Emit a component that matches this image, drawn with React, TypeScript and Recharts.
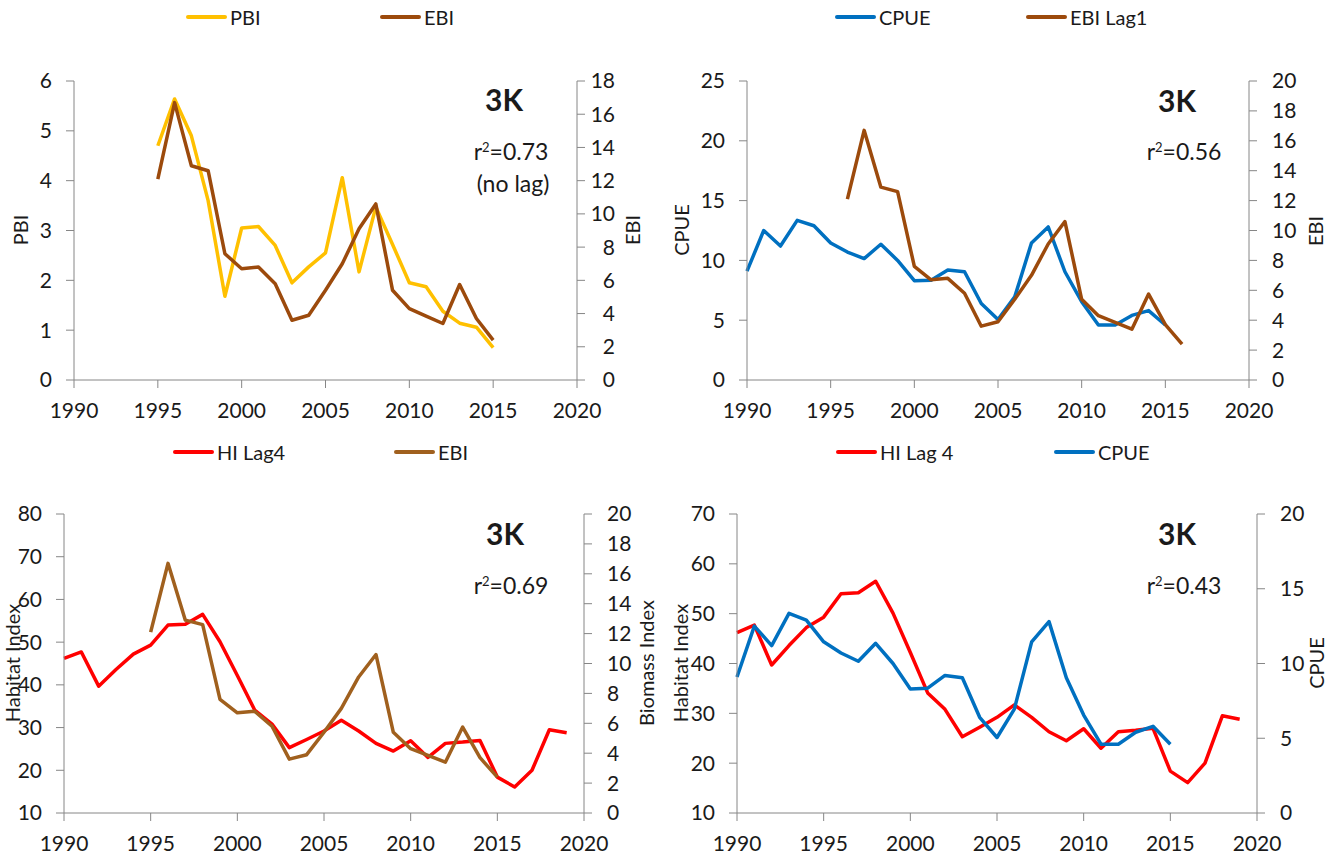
import React from "react";
import { LineChart, Line, XAxis, YAxis } from "recharts";

// ---- data ----
const ebiStart = 1995;
const ebiValues = [12.1, 16.7, 12.9, 12.6, 7.6, 6.7, 6.8, 5.8, 3.6, 3.9, 5.4, 7.0, 9.1, 10.6, 5.4, 4.3, 3.85, 3.4, 5.75, 3.7, 2.4];

const pbiStart = 1995;
const pbiValues = [4.7, 5.64, 4.9, 3.6, 1.68, 3.05, 3.08, 2.7, 1.95, 2.27, 2.55, 4.06, 2.17, 3.47, 2.72, 1.95, 1.87, 1.38, 1.14, 1.06, 0.65];

const cpueStart = 1990;
const cpueValues = [9.1, 12.5, 11.2, 13.35, 12.9, 11.45, 10.7, 10.15, 11.35, 10.0, 8.3, 8.35, 9.2, 9.05, 6.4, 5.05, 6.95, 11.45, 12.8, 9.05, 6.55, 4.6, 4.6, 5.4, 5.8, 4.6];

// EBI shifted forward one year
const ebiLag1Start = 1996;

const hiStart = 1990;
const hiValues = [46.2, 47.7, 39.7, 43.6, 47.2, 49.3, 54.0, 54.2, 56.5, 50.1, 42.2, 34.1, 30.8, 25.3, 27.2, 29.2, 31.7, 29.2, 26.3, 24.5, 26.9, 23.0, 26.3, 26.6, 27.0, 18.4, 16.1, 20.0, 29.5, 28.8];

const yearTicks = [1990, 1995, 2000, 2005, 2010, 2015, 2020];

const FONT = "Lato, 'Open Sans', sans-serif";
const AXIS = "#868686";
const TXT = "#1a1a1a";
const YELLOW = "#FFC000";
const BROWN = "#9C4A0C";
const BROWN2 = "#A0601E";
const BLUE = "#0070C0";
const RED = "#FF0000";

type S = { key: string; start: number; values: number[] };

function merge(list: S[]) {
  const rows: Record<number, any> = {};
  list.forEach((s) => {
    s.values.forEach((v, i) => {
      const yr = s.start + i;
      if (!rows[yr]) rows[yr] = { year: yr };
      rows[yr][s.key] = v;
    });
  });
  return Object.values(rows).sort((a: any, b: any) => a.year - b.year);
}

function range(a: number, b: number, step: number) {
  const out: number[] = [];
  for (let v = a; v <= b; v += step) out.push(v);
  return out;
}

interface PanelProps {
  left: number;
  top: number;
  width: number;
  height: number;
  plot: { l: number; r: number; t: number; b: number };
  leftDomain: [number, number];
  leftStep: number;
  rightDomain: [number, number];
  rightStep: number;
  rightAlignEnd?: boolean;
  lines: { key: string; axis: "l" | "r"; color: string }[];
  data: any[];
}

function Panel(p: PanelProps) {
  const rightW = 60;
  const margin = {
    top: p.plot.t,
    left: 0,
    right: p.width - p.plot.r - rightW,
    bottom: p.height - p.plot.b - 40,
  };
  const tickStyle = { fill: TXT, fontSize: 21, fontFamily: FONT };
  const rightTick = (props: any) => {
    const { x, y, payload } = props;
    return (
      <text
        x={p.rightAlignEnd ? x + 15 : x}
        y={y}
        dy="0.355em"
        textAnchor={p.rightAlignEnd ? "end" : "start"}
        fill={TXT}
        fontSize={21}
        fontFamily={FONT}
      >
        {payload.value}
      </text>
    );
  };
  return (
    <div style={{ position: "absolute", left: p.left, top: p.top }}>
      <LineChart width={p.width} height={p.height} data={p.data} margin={margin}>
        <XAxis
          dataKey="year"
          type="number"
          domain={[1990, 2020]}
          ticks={yearTicks}
          height={40}
          tickSize={8}
          tickMargin={15}
          axisLine={{ stroke: AXIS }}
          tickLine={{ stroke: AXIS }}
          tick={tickStyle}
          interval={0}
        />
        <YAxis
          yAxisId="l"
          orientation="left"
          width={p.plot.l}
          domain={p.leftDomain}
          ticks={range(p.leftDomain[0], p.leftDomain[1], p.leftStep)}
          tickSize={8}
          tickMargin={14}
          axisLine={{ stroke: AXIS }}
          tickLine={{ stroke: AXIS }}
          tick={tickStyle}
          interval={0}
          allowDataOverflow
        />
        <YAxis
          yAxisId="r"
          orientation="right"
          width={rightW}
          domain={p.rightDomain}
          ticks={range(p.rightDomain[0], p.rightDomain[1], p.rightStep)}
          tickSize={8}
          tickMargin={15}
          axisLine={{ stroke: AXIS }}
          tickLine={{ stroke: AXIS }}
          tick={rightTick}
          interval={0}
          allowDataOverflow
        />
        {p.lines.map((ln) => (
          <Line
            key={ln.key}
            yAxisId={ln.axis}
            dataKey={ln.key}
            stroke={ln.color}
            strokeWidth={3.5}
            dot={false}
            strokeLinejoin="round"
            isAnimationActive={false}
          />
        ))}
      </LineChart>
    </div>
  );
}

function Txt({ x, y, children, size = 20, bold = false, rotate = false }: any) {
  return (
    <div
      style={{
        position: "absolute",
        left: x,
        top: y,
        transform: `translate(-50%, -50%)${rotate ? " rotate(-90deg)" : ""}`,
        whiteSpace: "nowrap",
        fontFamily: FONT,
        fontSize: size,
        fontWeight: bold ? 700 : 400,
        color: TXT,
        lineHeight: 1,
      }}
    >
      {children}
    </div>
  );
}

function LegendItem({ x, y, color, label }: any) {
  return (
    <div style={{ position: "absolute", left: x, top: y - 12, height: 24, display: "flex", alignItems: "center" }}>
      <div style={{ width: 41, height: 3.5, background: color, borderRadius: 2 }} />
      <span style={{ marginLeft: 3, fontFamily: FONT, fontSize: 20, color: TXT, lineHeight: 1 }}>{label}</span>
    </div>
  );
}

const R2 = ({ v }: { v: string }) => (
  <span>
    r<sup style={{ fontSize: 13, verticalAlign: 8 }}>2</sup>={v}
  </span>
);

export default function App() {
  const d1 = merge([
    { key: "pbi", start: pbiStart, values: pbiValues },
    { key: "ebi", start: ebiStart, values: ebiValues },
  ]);
  const d2 = merge([
    { key: "cpue", start: cpueStart, values: cpueValues },
    { key: "ebi1", start: ebiLag1Start, values: ebiValues },
  ]);
  const d3 = merge([
    { key: "hi", start: hiStart, values: hiValues },
    { key: "ebi", start: ebiStart, values: ebiValues },
  ]);
  const d4 = merge([
    { key: "hi", start: hiStart, values: hiValues },
    { key: "cpue", start: cpueStart, values: cpueValues },
  ]);

  return (
    <div style={{ position: "absolute", left: 0, top: 0, width: 1341, height: 860, background: "#fff", overflow: "hidden" }}>
      <Panel
        left={0}
        top={0}
        width={670}
        height={430}
        plot={{ l: 74, r: 577, t: 81, b: 380 }}
        leftDomain={[0, 6]}
        leftStep={1}
        rightDomain={[0, 18]}
        rightStep={2}
        rightAlignEnd
        data={d1}
        lines={[
          { key: "pbi", axis: "l", color: YELLOW },
          { key: "ebi", axis: "r", color: BROWN },
        ]}
      />
      <Panel
        left={660}
        top={0}
        width={681}
        height={430}
        plot={{ l: 87, r: 589, t: 81, b: 380 }}
        leftDomain={[0, 25]}
        leftStep={5}
        rightDomain={[0, 20]}
        rightStep={2}
        data={d2}
        lines={[
          { key: "cpue", axis: "l", color: BLUE },
          { key: "ebi1", axis: "r", color: BROWN },
        ]}
      />
      <Panel
        left={0}
        top={430}
        width={670}
        height={430}
        plot={{ l: 64, r: 584, t: 84, b: 383 }}
        leftDomain={[10, 80]}
        leftStep={10}
        rightDomain={[0, 20]}
        rightStep={2}
        data={d3}
        lines={[
          { key: "hi", axis: "l", color: RED },
          { key: "ebi", axis: "r", color: BROWN2 },
        ]}
      />
      <Panel
        left={660}
        top={430}
        width={681}
        height={430}
        plot={{ l: 77, r: 597, t: 84, b: 383 }}
        leftDomain={[10, 70]}
        leftStep={10}
        rightDomain={[0, 20]}
        rightStep={5}
        data={d4}
        lines={[
          { key: "hi", axis: "l", color: RED },
          { key: "cpue", axis: "r", color: BLUE },
        ]}
      />

      {/* legends */}
      <LegendItem x={186} y={17} color={YELLOW} label="PBI" />
      <LegendItem x={380} y={17} color={BROWN} label="EBI" />
      <LegendItem x={835} y={17} color={BLUE} label="CPUE" />
      <LegendItem x={1026} y={17} color={BROWN} label="EBI Lag1" />
      <LegendItem x={173} y={452} color={RED} label="HI Lag4" />
      <LegendItem x={394} y={452} color={BROWN2} label="EBI" />
      <LegendItem x={836} y={452} color={RED} label="HI Lag 4" />
      <LegendItem x={1054} y={452} color={BLUE} label="CPUE" />

      {/* axis titles */}
      <Txt x={20} y={230} rotate>PBI</Txt>
      <Txt x={632} y={230} rotate>EBI</Txt>
      <Txt x={681} y={230} rotate>CPUE</Txt>
      <Txt x={1315} y={231} rotate>EBI</Txt>
      <Txt x={12} y={663} rotate>Habitat Index</Txt>
      <Txt x={646} y={663} rotate>Biomass Index</Txt>
      <Txt x={680} y={663} rotate>Habitat Index</Txt>
      <Txt x={1316} y={663} rotate>CPUE</Txt>

      {/* annotations */}
      <Txt x={504} y={99} size={30} bold>3K</Txt>
      <Txt x={511} y={151} size={23}><R2 v="0.73" /></Txt>
      <Txt x={513} y={183} size={23}>(no lag)</Txt>
      <Txt x={1177} y={100} size={30} bold>3K</Txt>
      <Txt x={1184} y={151} size={23}><R2 v="0.56" /></Txt>
      <Txt x={505} y={533} size={30} bold>3K</Txt>
      <Txt x={511} y={585} size={23}><R2 v="0.69" /></Txt>
      <Txt x={1177} y={533} size={30} bold>3K</Txt>
      <Txt x={1184} y={585} size={23}><R2 v="0.43" /></Txt>
    </div>
  );
}
